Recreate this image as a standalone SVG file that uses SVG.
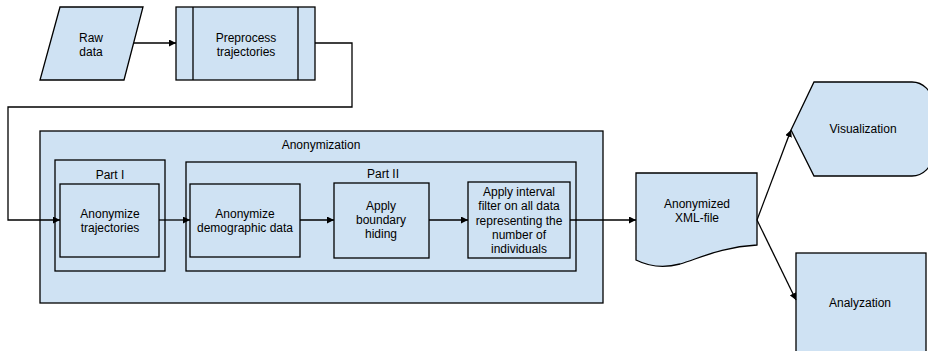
<svg xmlns="http://www.w3.org/2000/svg" width="928" height="351" viewBox="0 0 928 351">
  <style>
    .shape { fill: #cfe2f3; stroke: #000; stroke-width: 1.3; }
    .frame { fill: none; stroke: #000; stroke-width: 1.3; }
    .wire { fill: none; stroke: #000; stroke-width: 1.3; }
    text { font-family: "Liberation Sans", Arial, sans-serif; font-size: 12px; fill: #000; text-anchor: middle; }
  </style>
  <defs>
    <marker id="arrow" viewBox="0 0 10 10" refX="10" refY="5" markerWidth="7" markerHeight="7" markerUnits="userSpaceOnUse" orient="auto">
      <path d="M0,0 L10,5 L0,10 Z" fill="#000"/>
    </marker>
  </defs>
  <rect width="928" height="351" fill="#fff"/>

  <g id="raw-data">
    <polygon class="shape" points="60,7 143,7 124,80 40,80"/>
    <text x="91" y="42">Raw</text>
    <text x="91" y="56">data</text>
  </g>

  <g id="preprocess">
    <rect class="shape" x="176" y="7" width="139" height="73"/>
    <line class="frame" x1="193" y1="7" x2="193" y2="80"/>
    <line class="frame" x1="298" y1="7" x2="298" y2="80"/>
    <text x="246" y="42">Preprocess</text>
    <text x="246" y="56">trajectories</text>
  </g>

  <g id="anonymization">
    <rect class="shape" x="40" y="131" width="563" height="172"/>
    <text x="321" y="149">Anonymization</text>
  </g>

  <g id="part-1">
    <rect class="frame" x="55" y="160" width="110" height="111"/>
    <text x="110" y="179">Part I</text>
  </g>

  <g id="part-2">
    <rect class="frame" x="186" y="162" width="390" height="109"/>
    <text x="383" y="178">Part II</text>
  </g>

  <g id="anonymize-trajectories">
    <rect class="frame" x="60" y="184" width="99" height="73"/>
    <text x="110" y="218">Anonymize</text>
    <text x="110" y="232">trajectories</text>
  </g>

  <g id="anonymize-demographic">
    <rect class="frame" x="190" y="184" width="110" height="73"/>
    <text x="245" y="218">Anonymize</text>
    <text x="245" y="232">demographic data</text>
  </g>

  <g id="boundary-hiding">
    <rect class="frame" x="334" y="183" width="95" height="75"/>
    <text x="381" y="210">Apply</text>
    <text x="381" y="224">boundary</text>
    <text x="381" y="238">hiding</text>
  </g>

  <g id="interval-filter">
    <rect class="frame" x="468" y="182" width="102" height="76"/>
    <text x="519" y="196">Apply interval</text>
    <text x="519" y="210">filter on all data</text>
    <text x="519" y="225">representing the</text>
    <text x="519" y="239">number of</text>
    <text x="519" y="253">individuals</text>
  </g>

  <g id="xml-file">
    <path class="shape" d="M636,173 H757 V245 C722,247 700,258 680,264 C665,268 650,267 636,260 Z"/>
    <text x="697" y="208">Anonymized</text>
    <text x="697" y="222">XML-file</text>
  </g>

  <g id="visualization">
    <path class="shape" d="M791,130 L814,82 H912 A20,20 0 0 1 932,102 V156 A20,20 0 0 1 912,176 H814 Z"/>
    <text x="863" y="133">Visualization</text>
  </g>

  <g id="analyzation">
    <rect class="shape" x="796" y="253" width="130" height="110"/>
    <text x="860" y="307">Analyzation</text>
  </g>

  <g id="connectors">
    <path class="wire" d="M134,43 H176" marker-end="url(#arrow)"/>
    <path class="wire" d="M315,43 H352 V107 H8 V220 H60" marker-end="url(#arrow)"/>
    <path class="wire" d="M159,220 H190" marker-end="url(#arrow)"/>
    <path class="wire" d="M300,220 H334" marker-end="url(#arrow)"/>
    <path class="wire" d="M429,220 H468" marker-end="url(#arrow)"/>
    <path class="wire" d="M570,220 H636" marker-end="url(#arrow)"/>
    <path class="wire" d="M757,220 L791,130" marker-end="url(#arrow)"/>
    <path class="wire" d="M757,220 L796,300" marker-end="url(#arrow)"/>
  </g>
</svg>
